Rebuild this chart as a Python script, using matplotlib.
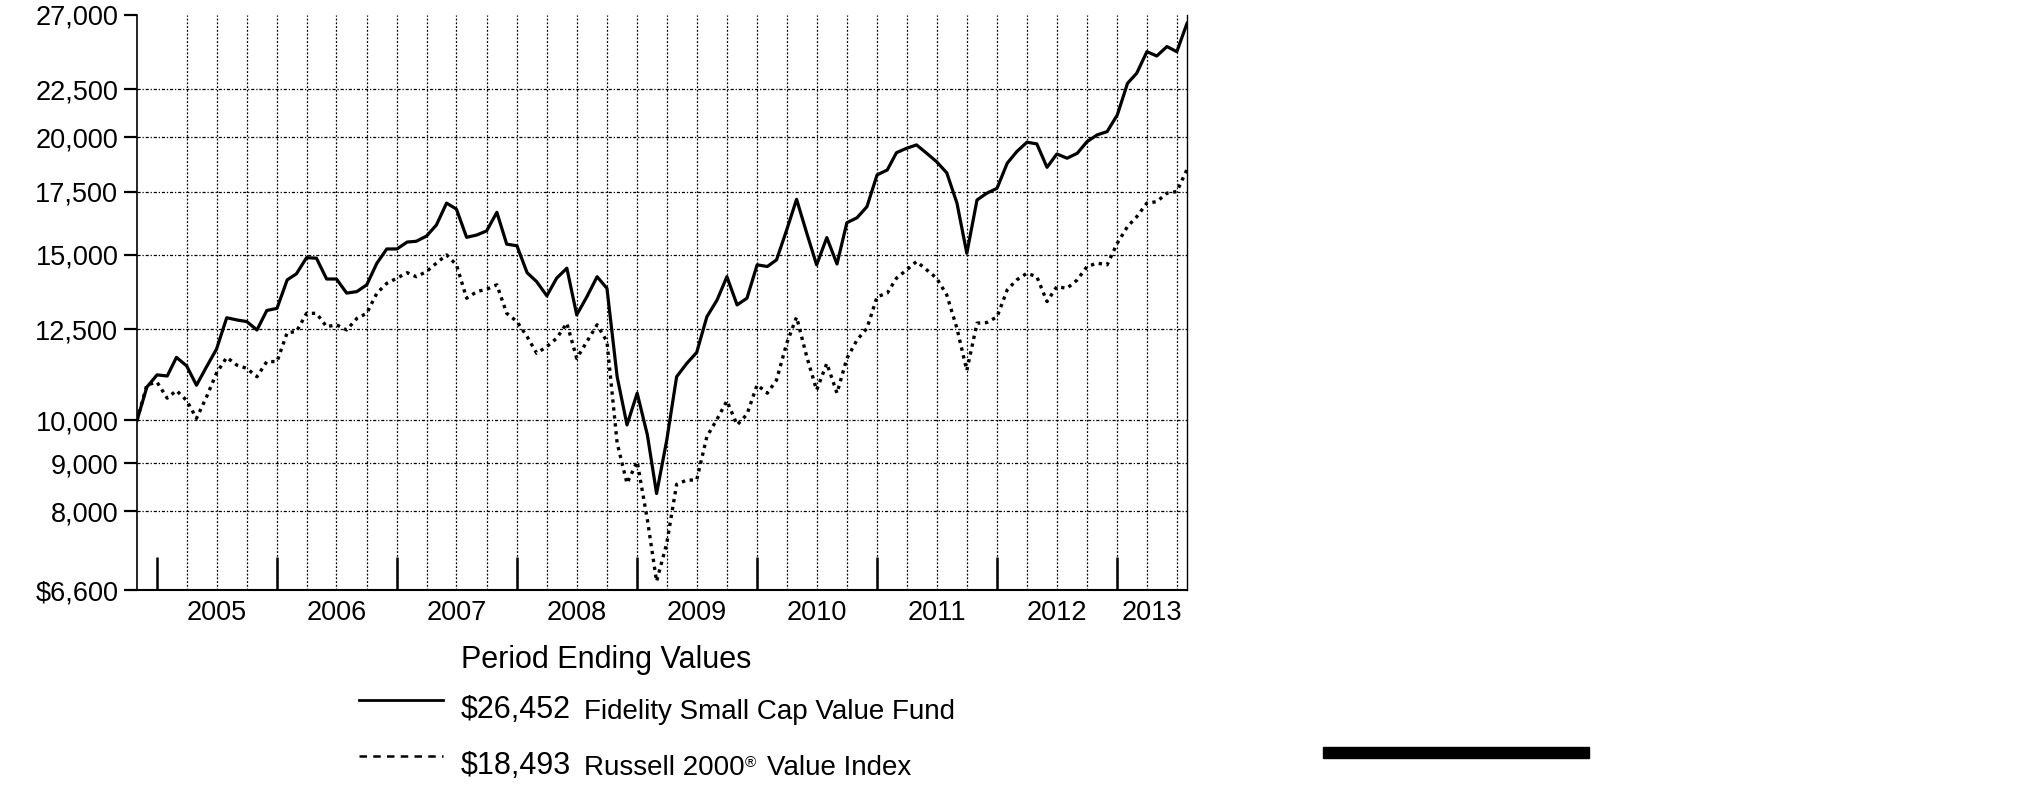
import matplotlib
matplotlib.use('Agg')
import matplotlib.pyplot as plt
from matplotlib.lines import Line2D
from matplotlib.patches import Rectangle
import pandas as pd

plt.rcParams['font.family'] = ['Liberation Sans', 'DejaVu Sans']

# month-end values, Oct 2004 (start) .. Jul 2013
dates = pd.date_range('2004-10-31', '2013-07-31', freq='ME')

fund = [10000, 10850, 11180, 11150, 11670, 11430, 10900, 11410, 11910, 12860,
        12790, 12740, 12480, 13090, 13160, 14110, 14320, 14900, 14880, 14140,
        14140, 13660, 13710, 13940, 14700, 15220, 15220, 15480, 15510, 15710,
        16140, 17030, 16780, 15660, 15750, 15910, 16650, 15400, 15340, 14360,
        14050, 13570, 14170, 14520, 12950, 13540, 14220, 13820, 11130, 9890,
        10690, 9650, 8360, 9530, 11130, 11500, 11810, 12890, 13430, 14220,
        13270, 13490, 14640, 14580, 14820, 15950, 17190, 15820, 14640, 15650,
        14670, 16230, 16430, 16880, 18250, 18470, 19270, 19480, 19640, 19240,
        18850, 18340, 17030, 15060, 17160, 17450, 17660, 18780, 19320, 19770,
        19690, 18590, 19210, 19010, 19240, 19800, 20130, 20290, 21140, 22840,
        23410, 24680, 24420, 24990, 24680, 26452]

index = [10000, 10910, 10980, 10560, 10760, 10500, 10050, 10600, 11230, 11670,
         11450, 11360, 11130, 11550, 11550, 12400, 12430, 13000, 13000, 12580,
         12640, 12480, 12840, 13000, 13660, 13990, 14170, 14360, 14220, 14400,
         14700, 15000, 14640, 13490, 13710, 13790, 13940, 13000, 12740, 12280,
         11790, 11980, 12230, 12690, 11640, 12130, 12640, 12130, 9460, 8570,
         9040, 7840, 6740, 7400, 8550, 8640, 8640, 9610, 10030, 10490,
         9890, 10150, 10910, 10690, 11040, 12080, 12880, 11690, 10770, 11500,
         10690, 11640, 12180, 12530, 13540, 13660, 14170, 14460, 14760, 14460,
         14170, 13600, 12530, 11300, 12690, 12710, 12890, 13770, 14110, 14340,
         14220, 13380, 13880, 13820, 14110, 14580, 14700, 14640, 15440, 16080,
         16470, 17030, 17090, 17450, 17520, 18493]

ytick_vals = [6600, 8000, 9000, 10000, 12500, 15000, 17500, 20000, 22500, 27000]
ytick_labels = ['$6,600', '8,000', '9,000', '10,000', '12,500', '15,000',
                '17,500', '20,000', '22,500', '27,000']
grid_vals = [8000, 9000, 10000, 12500, 15000, 17500, 20000, 22500]
years = list(range(2005, 2014))

fund_label = ('$26,452', 'Fidelity Small Cap Value Fund')
index_label = ('$18,493', 'Russell 2000', '\u00ae', 'Value Index')

W, H = 2025, 806
fig = plt.figure(figsize=(W / 100, H / 100), dpi=100)
ax = fig.add_axes([137 / W, 1 - 590 / H, 1050 / W, 575 / H])

ax.set_yscale('log')
ax.set_ylim(6600, 27000)
ax.set_xlim(dates[0], dates[-1])

# grid
for v in grid_vals:
    ax.axhline(v, color='black', lw=0.9, ls=(0, (2.5, 1.5, 1, 1.5)), zorder=1)
quarters = pd.date_range('2005-03-31', '2013-06-30', freq='QE')
for q in quarters:
    ax.axvline(q, color='black', lw=0.9, ls=(0, (1.5, 1.5)), zorder=1)

ax.plot(dates, fund, color='black', lw=2.3, zorder=3)
ax.plot(dates, index, color='black', lw=2.4, ls=(0, (1, 1.4)), zorder=3)

ax.set_yticks(ytick_vals, ytick_labels)
ax.yaxis.set_minor_locator(matplotlib.ticker.NullLocator())
ax.tick_params(axis='y', which='major', direction='out', length=9.5, width=1.6,
               labelsize=19.5, pad=4)

year_starts = [pd.Timestamp(f'{y - 1}-12-31') for y in years]
ax.set_xticks(year_starts, [''] * len(years))
ends = year_starts[1:] + [dates[-1]]
mids = [s + (e - s) / 2 for s, e in zip(year_starts, ends)]
ax.set_xticks(mids, [str(y) for y in years], minor=True)
ax.tick_params(axis='x', which='major', direction='in', length=24, width=1.8)
ax.tick_params(axis='x', which='minor', length=0, labelsize=19.5, pad=7)

ax.spines['top'].set_visible(False)
ax.spines['left'].set_linewidth(1.2)
ax.spines['right'].set_linewidth(1.0)
ax.spines['bottom'].set_linewidth(1.5)

# legend
tx = 461 / W
fig.text(tx, 1 - 668 / H, 'Period Ending Values', fontsize=22, va='baseline')

fig.add_artist(Line2D([359 / W, 443 / W], [1 - 700 / H] * 2, color='black', lw=2.0))
fig.add_artist(Line2D([359 / W, 443 / W], [1 - 756 / H] * 2, color='black', lw=1.8,
                      ls=(0, (3, 2.5))))

t1 = fig.text(tx, 1 - 718 / H, fund_label[0], fontsize=22, va='baseline')
ax.annotate(fund_label[1], xy=(1, 0), xycoords=t1, xytext=(9, 0),
            textcoords='offset points', fontsize=20, va='bottom',
            annotation_clip=False)

t2 = fig.text(tx, 1 - 774 / H, index_label[0], fontsize=22, va='baseline')
t3 = ax.annotate(index_label[1], xy=(1, 0), xycoords=t2, xytext=(9, 0),
                 textcoords='offset points', fontsize=20, va='bottom',
                 annotation_clip=False)
ax.annotate(index_label[2], xy=(1, 0.42), xycoords=t3, xytext=(0.5, 0),
            textcoords='offset points', fontsize=11, va='bottom',
            annotation_clip=False)
ax.annotate(index_label[3], xy=(1, 0), xycoords=t3, xytext=(16, 0),
            textcoords='offset points', fontsize=20, va='bottom',
            annotation_clip=False)

fig.add_artist(Rectangle((1323 / W, 1 - 758 / H), 266 / W, 11 / H,
                         transform=fig.transFigure, color='black'))

fig.savefig('out.png', dpi=100)
